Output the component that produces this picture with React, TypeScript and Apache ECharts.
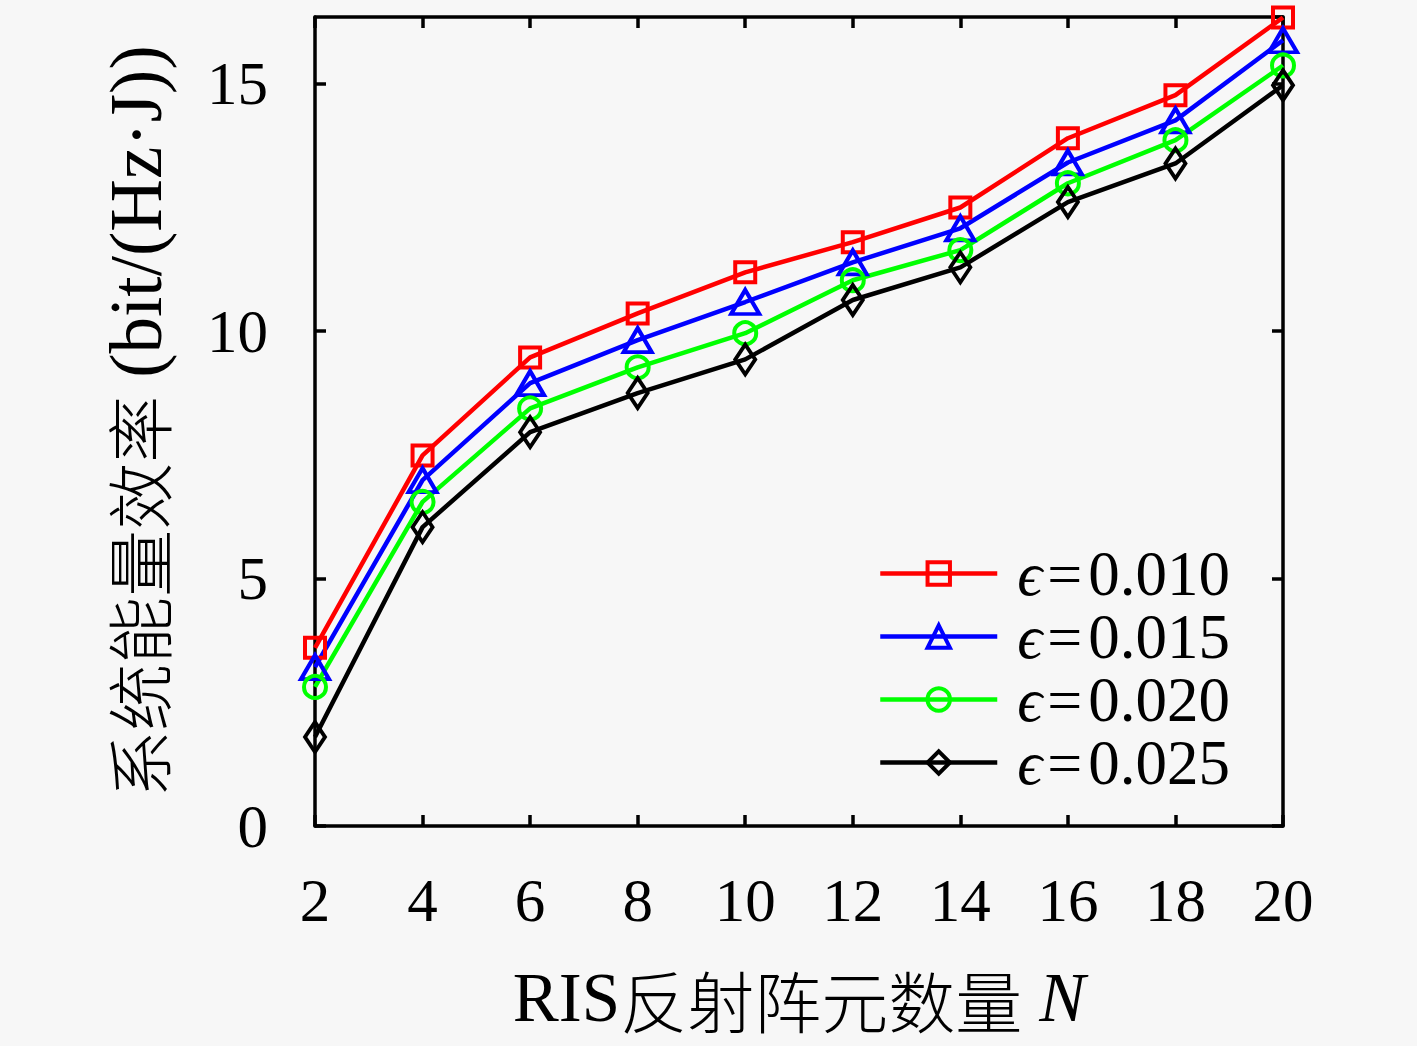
import React, { useEffect, useRef } from "react";
import * as echarts from "echarts";

const xValues = [2, 4, 6, 8, 10, 12, 14, 16, 18, 20];
const seriesNames = ["ϵ=0.010", "ϵ=0.015", "ϵ=0.020", "ϵ=0.025"];
const eps010 = [3.6, 7.49, 9.47, 10.36, 11.19, 11.8, 12.5, 13.9, 14.77, 16.34];
const eps015 = [3.21, 6.99, 8.95, 9.82, 10.59, 11.39, 12.08, 13.41, 14.26, 15.88];
const eps020 = [2.81, 6.55, 8.44, 9.27, 9.96, 11.03, 11.64, 12.99, 13.86, 15.37];
const eps025 = [1.8, 6.04, 7.96, 8.75, 9.43, 10.63, 11.29, 12.61, 13.39, 14.97];
const yTicks = [0, 5, 10, 15];

const colors = ["#ff0000", "#0000ff", "#00ff00", "#000000"];
const symbols = ["rect", "triangle", "circle", "diamond"];
const symbolSizes: any[] = [20, [28, 24], 22, [20, 30]];

const SERIF = "'Liberation Serif', 'Times New Roman', serif";
const CJK = "'Noto Sans CJK SC', serif";

export default function App() {
  const ref = useRef<HTMLDivElement>(null);
  useEffect(() => {
    if (!ref.current) return;
    const chart = echarts.init(ref.current, undefined, { renderer: "svg" });
    const allData = [eps010, eps015, eps020, eps025];
    const series = allData.map((vals, i) => ({
      name: seriesNames[i],
      type: "line",
      data: xValues.map((x, j) => [x, vals[j]]),
      symbol: symbols[i],
      symbolSize: symbolSizes[i],
      showAllSymbol: true,
      clip: false,
      color: colors[i],
      lineStyle: { color: colors[i], width: 4.5 },
      itemStyle: { color: "transparent", borderColor: colors[i], borderWidth: 4 },
      xAxisIndex: 0,
      yAxisIndex: 0,
    }));
    const axisLine = { show: true, onZero: false, lineStyle: { color: "#000", width: 3.5 } };
    const tickStyle = { show: true, inside: true, length: 11, lineStyle: { color: "#000", width: 3.5 } };
    const yFmt = (v: number) => (yTicks.indexOf(Math.round(v * 1000) / 1000) >= 0 ? String(v) : "");
    const legendRich = {
      e: { fontFamily: SERIF, fontStyle: "italic", fontSize: 62, lineHeight: 61, color: "#000" },
      q: { fontFamily: SERIF, fontSize: 62, lineHeight: 61, color: "#000", padding: [0, 6, 0, 5] },
      n: { fontFamily: SERIF, fontSize: 63, lineHeight: 61, color: "#000" },
    };
    chart.setOption({
      animation: false,
      backgroundColor: "#f7f7f7",
      grid: { left: 315, top: 17, right: 134, bottom: 220, containLabel: false },
      legend: {
        show: true,
        orient: "vertical",
        left: 878,
        top: 542,
        padding: 0,
        itemWidth: 117,
        itemHeight: 28,
        itemGap: 0,
        data: seriesNames,
        lineStyle: { width: 4.5 },
        itemStyle: { borderWidth: 4 },
        formatter: (name: string) => "{e|ϵ}{q|=}{n|" + name.slice(2) + "}",
        textStyle: {
          fontFamily: SERIF,
          fontSize: 61,
          lineHeight: 61,
          color: "#000",
          padding: [0, 0, 0, 15],
          rich: legendRich,
        },
      },
      xAxis: [
        {
          type: "value",
          position: "bottom",
          min: 2,
          max: 20,
          interval: 2,
          axisLine,
          axisTick: tickStyle,
          splitLine: { show: false },
          axisLabel: { margin: 44, fontFamily: SERIF, fontSize: 61, color: "#000" },
          name: "{l|RIS}{c|反射阵元数量} {i|N}",
          nameLocation: "middle",
          nameGap: 137,
          nameTextStyle: {
            fontFamily: SERIF,
            fontSize: 68,
            lineHeight: 70,
            color: "#000",
            rich: {
              l: { fontFamily: SERIF, fontSize: 69, lineHeight: 70, color: "#000" },
              c: { fontFamily: CJK, fontSize: 67, lineHeight: 70, fontWeight: 300, color: "#000" },
              i: { fontFamily: SERIF, fontStyle: "italic", fontSize: 69, lineHeight: 70, color: "#000" },
            },
          },
        },
        {
          type: "value",
          position: "top",
          min: 2,
          max: 20,
          interval: 2,
          axisLine,
          axisTick: tickStyle,
          splitLine: { show: false },
          axisLabel: { show: false },
        },
      ],
      yAxis: [
        {
          type: "value",
          position: "left",
          min: 0,
          max: 16.35,
          interval: 5,
          axisLine,
          axisTick: tickStyle,
          splitLine: { show: false },
          axisLabel: { margin: 47, fontFamily: SERIF, fontSize: 61, color: "#000", formatter: yFmt, showMaxLabel: false },
          name: "{c|系统能量效率} {l|(bit/(Hz·J))}",
          nameLocation: "middle",
          nameGap: 143,
          nameTextStyle: {
            fontFamily: SERIF,
            fontSize: 72,
            lineHeight: 72,
            color: "#000",
            rich: {
              c: { fontFamily: CJK, fontSize: 67, lineHeight: 72, fontWeight: 300, color: "#000" },
              l: { fontFamily: SERIF, fontSize: 73, lineHeight: 72, color: "#000" },
            },
          },
        },
        {
          type: "value",
          position: "right",
          min: 0,
          max: 16.35,
          interval: 5,
          axisLine,
          axisTick: tickStyle,
          splitLine: { show: false },
          axisLabel: { show: false },
        },
      ],
      series,
    });
    return () => chart.dispose();
  }, []);
  return (
    <div
      ref={ref}
      style={{ position: "fixed", left: 0, top: 0, width: 1417, height: 1046 }}
    />
  );
}
